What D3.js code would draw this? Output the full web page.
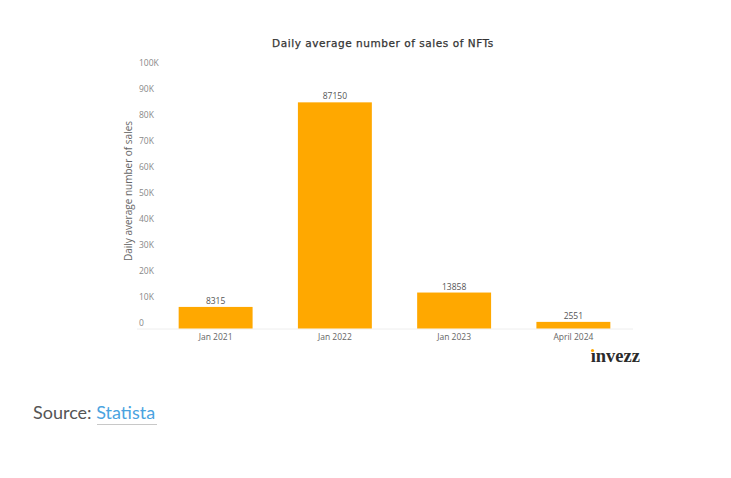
<!DOCTYPE html>
<html>
<head>
<meta charset="utf-8">
<script src="https://cdn.jsdelivr.net/npm/d3@7"></script>
<style>
  body { margin: 0; background: #fff; }
  svg { display: block; }
</style>
</head>
<body>
<div id="chart"></div>
<script>
// data
const periods = ["Jan 2021", "Jan 2022", "Jan 2023", "April 2024"];
const sales = [8315, 87150, 13858, 2551];
const yTicks = [0, 10000, 20000, 30000, 40000, 50000, 60000, 70000, 80000, 90000, 100000];

const width = 731;
const height = 478;

const svg = d3.select("#chart")
  .append("svg")
  .attr("width", width)
  .attr("height", height);

// plot area
const x = d3.scaleBand()
  .domain(periods)
  .range([156, 633])
  .paddingInner(0.38)
  .paddingOuter(0.19);

const y = d3.scaleLinear()
  .domain([0, 100000])
  .range([328.5, 69]);

// title
svg.append("text")
  .attr("x", 383)
  .attr("y", 47)
  .attr("text-anchor", "middle")
  .attr("font-family", "DejaVu Sans, sans-serif")
  .attr("font-size", 10.5)
  .attr("letter-spacing", 0.55)
  .attr("fill", "#333")
  .attr("stroke", "#333")
  .attr("stroke-width", 0.25)
  .text("Daily average number of sales of NFTs");

// y tick labels (sit just above their value, no gridlines)
svg.append("g")
  .selectAll("text")
  .data(yTicks)
  .enter()
  .append("text")
  .attr("x", 139)
  .attr("y", d => y(d) - 3)
  .attr("font-family", "Open Sans, sans-serif")
  .attr("font-size", 8.5)
  .attr("fill", "#888")
  .text(d => d === 0 ? "0" : d / 1000 + "K");

// y axis title
svg.append("text")
  .attr("transform", "translate(132, 191) rotate(-90)")
  .attr("text-anchor", "middle")
  .attr("font-family", "Open Sans, sans-serif")
  .attr("font-size", 10)
  .attr("fill", "#666")
  .text("Daily average number of sales");

// baseline
svg.append("line")
  .attr("x1", 137)
  .attr("x2", 633)
  .attr("y1", y(0) + 0.5)
  .attr("y2", y(0) + 0.5)
  .attr("stroke", "#eeeeee")
  .attr("stroke-width", 1);

// bars
svg.append("g")
  .selectAll("rect")
  .data(sales)
  .enter()
  .append("rect")
  .attr("x", (d, i) => x(periods[i]))
  .attr("y", d => y(d))
  .attr("width", x.bandwidth())
  .attr("height", d => y(0) - y(d))
  .attr("fill", "#ffa800");

// value labels
svg.append("g")
  .selectAll("text")
  .data(sales)
  .enter()
  .append("text")
  .attr("x", (d, i) => x(periods[i]) + x.bandwidth() / 2)
  .attr("y", d => y(d) - 3)
  .attr("text-anchor", "middle")
  .attr("font-family", "Open Sans, sans-serif")
  .attr("font-size", 8.5)
  .attr("fill", "#555")
  .text(d => d);

// x labels
svg.append("g")
  .selectAll("text")
  .data(periods)
  .enter()
  .append("text")
  .attr("x", d => x(d) + x.bandwidth() / 2)
  .attr("y", 340)
  .attr("text-anchor", "middle")
  .attr("font-family", "Open Sans, sans-serif")
  .attr("font-size", 8.5)
  .attr("fill", "#666")
  .text(d => d);

// invezz logo, the dot of the i is orange
svg.append("text")
  .attr("x", 640)
  .attr("y", 362)
  .attr("text-anchor", "end")
  .attr("font-family", "Liberation Serif, serif")
  .attr("font-size", 18.5)
  .attr("font-weight", "bold")
  .attr("fill", "#2b2b2b")
  .text("\u0131nvezz");
svg.append("circle")
  .attr("cx", 592.5)
  .attr("cy", 350.5)
  .attr("r", 1.6)
  .attr("fill", "#ffa800");

// source line
const src = svg.append("text")
  .attr("x", 33)
  .attr("y", 419)
  .attr("font-family", "Lato, sans-serif")
  .attr("font-size", 18)
  .attr("fill", "#555");
src.append("tspan").text("Source: ");
src.append("tspan").attr("fill", "#4aa3df").text("Statista");

svg.append("line")
  .attr("x1", 97)
  .attr("x2", 157)
  .attr("y1", 424.5)
  .attr("y2", 424.5)
  .attr("stroke", "#c8c8c8")
  .attr("stroke-width", 1);
</script>
</body>
</html>
